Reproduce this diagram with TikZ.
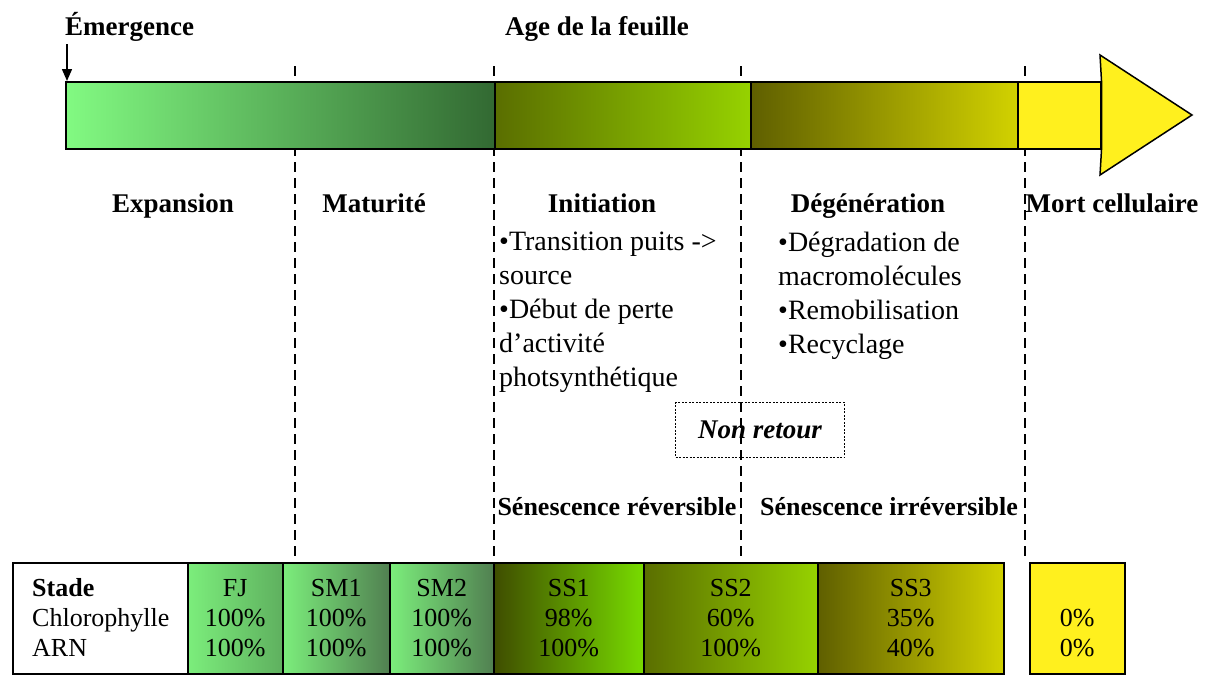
\documentclass[tikz,border=0pt]{standalone}
\usepackage{fontspec}
\setmainfont{Liberation Serif}
\usetikzlibrary{arrows.meta}

\definecolor{greenlight}{HTML}{82FA82}
\definecolor{greendark}{HTML}{326932}
\definecolor{greenmid}{HTML}{5FB05F}
\definecolor{olivegreen}{HTML}{5A6E00}
\definecolor{limegreen}{HTML}{96D200}
\definecolor{olivedark}{HTML}{5F5F00}
\definecolor{olivelight}{HTML}{D2D200}
\definecolor{deadyellow}{HTML}{FFF01E}

\begin{document}
\begin{tikzpicture}[x=1pt,y=-1pt,
  seg/.style={draw=black,line width=1.5pt,minimum height=67pt,inner sep=0pt,anchor=north west},
  cell/.style={draw=black,line width=1.5pt,minimum height=111pt,inner sep=0pt,anchor=north west,
    align=center,font=\fontsize{26}{30}\selectfont},
  divider/.style={line width=1.8pt,dash pattern=on 10pt off 6pt},
  heading/.style={font=\fontsize{27}{30}\selectfont\bfseries,inner sep=0pt},
  phase/.style={font=\fontsize{28}{34}\selectfont,align=left,inner sep=0pt,anchor=north west}]
\useasboundingbox (0,0) rectangle (1212,675);

% phase limits
\foreach \x in {295,494,741,1025}
  \draw[divider] (\x,66) -- (\x,562);

% age axis
\node[heading,anchor=base west] (emerg) at (65,35) {Émergence};
\node[heading,anchor=base] (age) at (597,35) {Age de la feuille};
\node[seg,minimum width=429pt,left color=greenlight,right color=greendark] (s1) at (65,81) {};
\node[seg,minimum width=256pt,left color=olivegreen,right color=limegreen] (s2) at (494,81) {};
\node[seg,minimum width=267pt,left color=olivedark,right color=olivelight] (s3) at (750,81) {};
\node[seg,minimum width=83pt,fill=deadyellow] (s4) at (1017,81) {};
\filldraw[fill=deadyellow,line width=1.5pt,line join=miter] (s4.north east) -- (1100,55) -- (1192,115)
  -- (1100,175) -- (s4.south east) -- cycle;
\coordinate (emstart) at (67,44);
\draw[line width=1.5pt,-{Triangle[width=10pt,length=12pt]}] (emstart) -- (emstart |- s1.north);

% phases
\node[heading,anchor=base] (expansion) at (173,212) {Expansion};
\node[heading,anchor=base] (maturite) at (374,212) {Maturité};
\node[heading,anchor=base] (initiation) at (602,212) {Initiation};
\node[heading,anchor=base] (degen) at (868,212) {Dégénération};
\node[heading,anchor=base] (mort) at (1112,212) {Mort cellulaire};
\node[phase] (initlist) at (499,232) {•Transition puits ->\\source\\•Début de perte\\d’activité\\photsynthétique};
\node[phase] (degenlist) at (778,232) {•Dégradation de\\macromolécules\\•Remobilisation\\•Recyclage};

\node[draw,line width=1.8pt,dash pattern=on 2pt off 1.5pt,minimum width=169pt,minimum height=55pt,
  font=\fontsize{27}{30}\selectfont\bfseries\itshape] (nonretour) at (760,430) {Non retour};
\node[heading,font=\fontsize{26}{30}\selectfont\bfseries] (reversible) at (617,507) {Sénescence réversible};
\node[heading,font=\fontsize{26}{30}\selectfont\bfseries] (irreversible) at (889,507) {Sénescence irréversible};

% stades
\node[cell,minimum width=175pt,fill=white] (stade) at (12,562) {};
\node[font=\fontsize{26}{30}\selectfont,align=left,inner sep=0pt,anchor=west] (stadetext) at (32,617.5)
  {\textbf{Stade}\\Chlorophylle\\ARN};
\node[cell,minimum width=95pt,left color=greenlight!95!black,right color=greenmid] (fj) at (187,562) {FJ\\100\%\\100\%};
\node[cell,minimum width=107pt,left color=greenlight!95!black,right color=greendark!85!white] (sm1) at (282,562) {SM1\\100\%\\100\%};
\node[cell,minimum width=104pt,left color=greenlight!95!black,right color=greendark!85!white] (sm2) at (389,562) {SM2\\100\%\\100\%};
\node[cell,minimum width=150pt,left color=olivegreen!70!black,right color=limegreen!80!green] (ss1) at (493,562) {SS1\\98\%\\100\%};
\node[cell,minimum width=174pt,left color=olivegreen,right color=limegreen] (ss2) at (643,562) {SS2\\60\%\\100\%};
\node[cell,minimum width=186pt,left color=olivedark,right color=olivelight] (ss3) at (817,562) {SS3\\35\%\\40\%};
\node[cell,minimum width=95pt,fill=deadyellow] (mortcell) at (1029,562) {\phantom{0\%}\\0\%\\0\%};
\end{tikzpicture}
\end{document}
